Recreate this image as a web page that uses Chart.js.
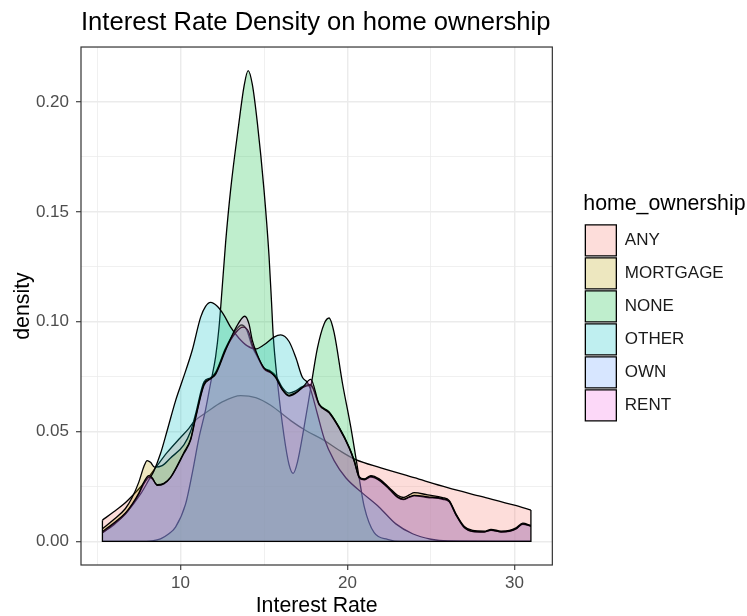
<!DOCTYPE html>
<html>
<head>
<meta charset="utf-8">
<script src="https://cdn.jsdelivr.net/npm/chart.js@4.4.1/dist/chart.umd.min.js"></script>
<style>
  html, body { margin: 0; padding: 0; background: #ffffff; }
  canvas { display: block; }
</style>
</head>
<body>
<canvas id="chart" width="747" height="616"></canvas>
<script>
// Groups of the home_ownership factor, in legend order
const groups = ['ANY', 'MORTGAGE', 'NONE', 'OTHER', 'OWN', 'RENT'];

// Kernel density estimates of interest rate (%) for each group
const rateAny = [5.32, 6.0, 6.6, 7.2, 7.8, 8.5, 9.2, 9.9, 10.5, 10.8, 11.6, 12.5, 13.6, 14.5, 15.4, 16.6, 17.5, 18.6, 19.5, 20.5, 22.0, 24.0, 26.0, 28.0, 30.0, 30.99];
const densityAny = [0.0097, 0.0135, 0.0170, 0.0215, 0.0265, 0.0335, 0.0405, 0.0465, 0.0515, 0.0545, 0.0590, 0.0635, 0.0664, 0.0655, 0.0620, 0.0550, 0.0505, 0.0460, 0.0415, 0.0372, 0.0335, 0.0290, 0.0245, 0.0205, 0.0165, 0.0143];

const rateMortgage = [5.32, 6.0, 6.7, 7.1, 7.5, 7.8, 8.0, 8.2, 8.45, 8.9, 9.4, 10.2, 10.6, 10.9, 11.4, 11.8, 12.1, 12.7, 13.3, 13.65, 13.95, 14.3, 14.6, 15.0, 15.4, 15.7, 16.1, 16.5, 16.9, 17.3, 17.8, 18.3, 18.9, 19.5, 20.1, 20.4, 20.7, 21.0, 21.4, 21.9, 22.5, 23.0, 23.35, 23.7, 24.0, 24.8, 25.7, 26.1, 26.5, 27.0, 27.5, 28.2, 28.6, 29.2, 29.7, 30.1, 30.5, 30.99];
const densityMortgage = [0.0058, 0.0100, 0.0150, 0.0200, 0.0270, 0.0340, 0.0368, 0.0360, 0.0338, 0.0345, 0.0380, 0.0440, 0.0500, 0.0580, 0.0725, 0.0745, 0.0770, 0.0880, 0.0960, 0.0985, 0.0965, 0.0885, 0.0840, 0.0790, 0.0775, 0.0755, 0.0700, 0.0675, 0.0685, 0.0705, 0.0715, 0.0625, 0.0590, 0.0520, 0.0430, 0.0370, 0.0295, 0.0285, 0.0300, 0.0285, 0.0245, 0.0210, 0.0200, 0.0212, 0.0222, 0.0212, 0.0200, 0.0186, 0.0126, 0.0068, 0.0050, 0.0047, 0.0055, 0.0047, 0.0050, 0.0062, 0.0083, 0.0073];

const rateNone = [5.32, 7.5, 8.3, 8.8, 9.3, 9.7, 10.3, 10.7, 11.1, 11.5, 11.8, 12.1, 12.3, 12.5, 12.7, 13.0, 13.5, 13.8, 14.05, 14.3, 14.6, 15.0, 15.3, 15.45, 15.55, 15.8, 16.2, 16.5, 16.75, 17.0, 17.4, 17.8, 18.2, 18.6, 18.9, 19.2, 19.7, 20.2, 20.5, 20.7, 21.0, 21.6, 22.4, 23.2, 30.99];
const densityNone = [0, 0, 0.0003, 0.0012, 0.0035, 0.0065, 0.0170, 0.0310, 0.0470, 0.0600, 0.0720, 0.0840, 0.0970, 0.1160, 0.1360, 0.1600, 0.1906, 0.2070, 0.2143, 0.2080, 0.1906, 0.1600, 0.1300, 0.1090, 0.0940, 0.0730, 0.0480, 0.0350, 0.0310, 0.0360, 0.0520, 0.0700, 0.0880, 0.0990, 0.1017, 0.0950, 0.0720, 0.0520, 0.0383, 0.0290, 0.0160, 0.0040, 0.0010, 0, 0];

const rateOther = [5.32, 6.0, 6.8, 7.6, 8.1, 8.4, 8.8, 9.2, 9.7, 10.1, 10.7, 11.2, 11.5, 11.8, 12.2, 12.6, 13.0, 13.5, 14.0, 14.5, 15.0, 15.6, 16.0, 16.5, 16.9, 17.3, 17.6, 17.8, 18.2, 18.6, 19.2, 19.9, 20.9, 21.9, 22.9, 23.9, 25.0, 26.0, 30.99];
const densityOther = [0.0040, 0.0075, 0.0135, 0.0215, 0.0280, 0.0320, 0.0400, 0.0505, 0.0640, 0.0730, 0.0870, 0.1020, 0.1070, 0.1088, 0.1070, 0.1030, 0.0975, 0.0925, 0.0890, 0.0876, 0.0895, 0.0930, 0.0940, 0.0910, 0.0838, 0.0747, 0.0724, 0.0690, 0.0580, 0.0470, 0.0368, 0.0290, 0.0220, 0.0156, 0.0080, 0.0035, 0.0010, 0.0002, 0];

const rateOwn = [5.32, 6.1, 6.7, 7.1, 7.5, 7.8, 8.1, 8.3, 8.6, 9.0, 9.4, 10.2, 10.6, 10.9, 11.4, 11.8, 12.1, 12.7, 13.3, 13.75, 14.1, 14.3, 14.6, 15.0, 15.4, 15.7, 16.1, 16.5, 16.9, 17.3, 17.8, 18.3, 18.9, 19.5, 20.1, 20.4, 20.7, 21.0, 21.4, 21.9, 22.5, 23.0, 23.35, 23.7, 24.0, 24.8, 25.7, 26.1, 26.5, 27.0, 27.5, 28.2, 28.6, 29.2, 29.7, 30.1, 30.5, 30.99];
const densityOwn = [0.0040, 0.0085, 0.0125, 0.0165, 0.0215, 0.0262, 0.0292, 0.0285, 0.0258, 0.0265, 0.0292, 0.0405, 0.0465, 0.0565, 0.0715, 0.0742, 0.0765, 0.0875, 0.0950, 0.0975, 0.0950, 0.0895, 0.0845, 0.0785, 0.0768, 0.0748, 0.0692, 0.0665, 0.0678, 0.0700, 0.0710, 0.0622, 0.0588, 0.0518, 0.0428, 0.0368, 0.0290, 0.0280, 0.0293, 0.0278, 0.0238, 0.0200, 0.0190, 0.0200, 0.0207, 0.0200, 0.0192, 0.0180, 0.0120, 0.0062, 0.0045, 0.0043, 0.0050, 0.0043, 0.0046, 0.0057, 0.0078, 0.0069];

const rateRent = [5.32, 6.1, 6.7, 7.1, 7.5, 7.8, 8.1, 8.3, 8.6, 9.0, 9.4, 10.2, 10.6, 10.9, 11.4, 11.8, 12.1, 12.7, 13.3, 13.85, 14.1, 14.3, 14.6, 15.0, 15.4, 15.7, 16.1, 16.5, 16.9, 17.3, 17.8, 18.3, 18.9, 19.5, 20.1, 20.4, 20.7, 21.0, 21.4, 21.9, 22.5, 23.0, 23.35, 23.7, 24.0, 24.8, 25.7, 26.1, 26.5, 27.0, 27.5, 28.2, 28.6, 29.2, 29.7, 30.1, 30.5, 30.99];
const densityRent = [0.0045, 0.0090, 0.0130, 0.0170, 0.0220, 0.0270, 0.0300, 0.0290, 0.0255, 0.0262, 0.0290, 0.0400, 0.0460, 0.0560, 0.0710, 0.0740, 0.0760, 0.0870, 0.0970, 0.1025, 0.0990, 0.0915, 0.0850, 0.0790, 0.0770, 0.0745, 0.0690, 0.0662, 0.0675, 0.0700, 0.0738, 0.0625, 0.0585, 0.0515, 0.0425, 0.0365, 0.0292, 0.0282, 0.0296, 0.0280, 0.0240, 0.0203, 0.0193, 0.0203, 0.0210, 0.0203, 0.0195, 0.0182, 0.0122, 0.0064, 0.0046, 0.0044, 0.0052, 0.0044, 0.0047, 0.0058, 0.0080, 0.0070];

// Axis breaks: labelled major breaks and unlabelled minor ones in between
const xBreaks = [5, 10, 15, 20, 25, 30];
const xMajorStep = 10;
const yBreaks = [0, 0.025, 0.05, 0.075, 0.1, 0.125, 0.15, 0.175, 0.2];
const yMajorStep = 0.05;

const rates = [rateAny, rateMortgage, rateNone, rateOther, rateOwn, rateRent];
const densities = [densityAny, densityMortgage, densityNone, densityOther, densityOwn, densityRent];

// ggplot2 default hue palette, filled at alpha 0.25
const hues = ['248,118,109', '183,159,0', '0,186,56', '0,191,196', '97,156,255', '245,100,227'];
const FONT = "'Liberation Sans', Arial, Helvetica, sans-serif";

// Scale limits: data range padded by 5% on each side
const xLo = Math.min(...rates.map(r => r[0]));
const xHi = Math.max(...rates.map(r => r[r.length - 1]));
const yHi = Math.max(...densities.map(d => Math.max(...d)));
const xPad = (xHi - xLo) * 0.05;
const yPad = yHi * 0.05;

const onStep = (v, step) => Math.abs(v / step - Math.round(v / step)) < 1e-6;

const densityDatasets = groups.map((g, i) => ({
  label: g,
  data: rates[i].map((x, k) => ({ x: x, y: densities[i][k] })),
  backgroundColor: 'rgba(' + hues[i] + ',0.25)',
  borderColor: '#000000',
  borderWidth: 1.3,
  fill: 'origin',
  pointRadius: 0,
  pointHoverRadius: 0,
  cubicInterpolationMode: 'monotone',
  // first group painted first, last group on top
  order: groups.length - i
}));

// Closing edges of the density polygons: vertical sides at the range ends and the baseline
const leftEdge = Math.max(...densities.map(d => d[0]));
const rightEdge = Math.max(...densities.map(d => d[d.length - 1]));
const edgeDataset = {
  label: 'edges',
  data: [{ x: xLo, y: leftEdge }, { x: xLo, y: 0 }, { x: xHi, y: 0 }, { x: xHi, y: rightEdge }],
  borderColor: '#000000',
  borderWidth: 1.3,
  fill: false,
  pointRadius: 0,
  pointHoverRadius: 0,
  tension: 0,
  order: 0
};

const panelFrame = {
  id: 'panelFrame',
  afterDatasetsDraw(chart) {
    const { ctx, chartArea: a } = chart;
    ctx.save();
    ctx.strokeStyle = '#333333';
    ctx.lineWidth = 1.2;
    ctx.strokeRect(a.left, a.top, a.right - a.left, a.bottom - a.top);
    ctx.restore();
  }
};

// Let the legend box run to the canvas edge so its title is not cut off
const legendExtent = {
  id: 'legendExtent',
  afterLayout(chart) {
    const lg = chart.legend;
    if (lg) {
      lg.right = chart.width;
      lg.width = lg.right - lg.left;
    }
  }
};

new Chart(document.getElementById('chart'), {
  type: 'line',
  data: { datasets: [...densityDatasets, edgeDataset] },
  plugins: [panelFrame, legendExtent],
  options: {
    responsive: false,
    animation: false,
    devicePixelRatio: 1,
    layout: { padding: { left: 0, right: 13.3, top: 0, bottom: 0 } },
    plugins: {
      tooltip: { enabled: false },
      filler: { drawTime: 'beforeDatasetDraw' },
      title: {
        display: true,
        text: 'Interest Rate Density on home ownership',
        align: 'start',
        fullSize: false,
        color: '#000000',
        font: { family: FONT, size: 25.6, weight: 'normal', lineHeight: 1.2 },
        padding: { top: 8, bottom: 8.3 }
      },
      legend: {
        position: 'right',
        align: 'center',
        maxWidth: 170,
        title: {
          display: true,
          text: 'home_ownership',
          position: 'start',
          color: '#000000',
          font: { family: FONT, size: 21.3, weight: 'normal' },
          padding: { top: 0, bottom: 4 }
        },
        labels: {
          boxWidth: 31,
          boxHeight: 31,
          padding: 2,
          color: '#1a1a1a',
          font: { family: FONT, size: 17 },
          filter: item => item.datasetIndex < groups.length,
          sort: (a, b) => a.datasetIndex - b.datasetIndex
        }
      }
    },
    scales: {
      x: {
        type: 'linear',
        min: xLo - xPad,
        max: xHi + xPad,
        afterBuildTicks: s => { s.ticks = xBreaks.map(v => ({ value: v })); },
        afterFit: s => { s.height = 51; },
        ticks: {
          autoSkip: false,
          maxRotation: 0,
          padding: 5,
          color: '#4d4d4d',
          font: { family: FONT, size: 17, lineHeight: 1 },
          callback: v => onStep(v, xMajorStep) ? String(v) : ''
        },
        grid: {
          color: '#ebebeb',
          lineWidth: c => (c.tick && onStep(c.tick.value, xMajorStep)) ? 1.45 : 0.75,
          tickLength: 5,
          tickWidth: 1.1,
          tickColor: c => (c.tick && onStep(c.tick.value, xMajorStep)) ? '#333333' : 'rgba(0,0,0,0)'
        },
        border: { display: false },
        title: {
          display: true,
          text: 'Interest Rate',
          color: '#000000',
          font: { family: FONT, size: 21.3, lineHeight: 0.9 },
          padding: { top: 0, bottom: 0 }
        }
      },
      y: {
        type: 'linear',
        position: 'left',
        min: -yPad,
        max: yHi + yPad,
        afterBuildTicks: s => { s.ticks = yBreaks.map(v => ({ value: v })); },
        afterFit: s => { s.width = 81; },
        ticks: {
          autoSkip: false,
          padding: 7,
          color: '#4d4d4d',
          font: { family: FONT, size: 17 },
          callback: v => onStep(v, yMajorStep) ? v.toFixed(2) : ''
        },
        grid: {
          color: '#ebebeb',
          lineWidth: c => (c.tick && onStep(c.tick.value, yMajorStep)) ? 1.45 : 0.75,
          tickLength: 5,
          tickWidth: 1.1,
          tickColor: c => (c.tick && onStep(c.tick.value, yMajorStep)) ? '#333333' : 'rgba(0,0,0,0)'
        },
        border: { display: false },
        title: {
          display: true,
          text: 'density',
          color: '#000000',
          font: { family: FONT, size: 21.3, lineHeight: 1 },
          padding: { top: 12, bottom: 0 }
        }
      },
      // spacer between the panel and the legend
      gap: {
        type: 'linear',
        position: 'right',
        display: true,
        grid: { display: false, drawTicks: false },
        ticks: { display: false },
        border: { display: false },
        afterFit: s => { s.width = 31; }
      }
    }
  }
});
</script>
</body>
</html>
